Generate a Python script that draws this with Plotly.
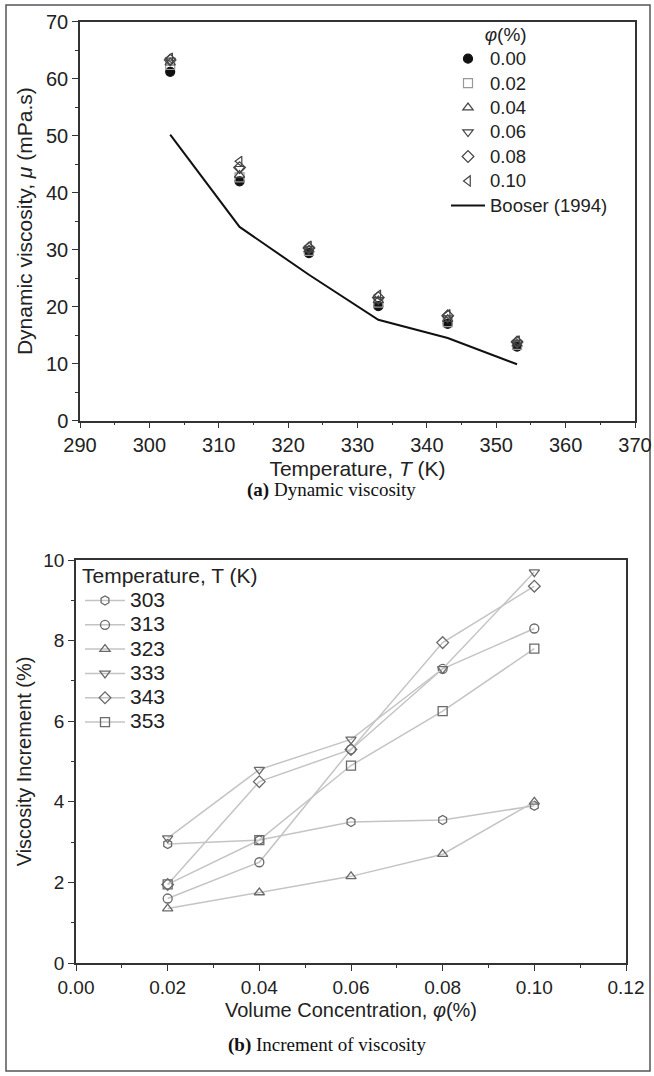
import plotly.graph_objects as go

# ---- Data: (a) dynamic viscosity ----
temps = [303, 313, 323, 333, 343, 353]
phi_labels = ["0.00", "0.02", "0.04", "0.06", "0.08", "0.10"]
mu_000 = [61.2, 42.0, 29.4, 20.1, 17.0, 13.0]
mu_002 = [62.4, 42.7, 29.8, 20.7, 17.3, 13.3]
mu_004 = [62.8, 43.1, 30.0, 21.1, 17.8, 13.5]
mu_006 = [63.2, 44.2, 30.1, 21.2, 18.0, 13.6]
mu_008 = [63.3, 44.4, 30.3, 21.6, 18.4, 13.8]
mu_010 = [63.6, 45.5, 30.6, 22.0, 18.6, 14.0]
booser_T = [303, 313, 323, 333, 343, 353]
booser_mu = [50.2, 34.0, 25.6, 17.7, 14.5, 9.9]

# ---- Data: (b) increment of viscosity ----
phis = [0.02, 0.04, 0.06, 0.08, 0.10]
temp_labels = ["303", "313", "323", "333", "343", "353"]
inc_303 = [2.95, 3.05, 3.5, 3.55, 3.9]
inc_313 = [1.6, 2.5, 5.3, 7.3, 8.3]
inc_323 = [1.35, 1.75, 2.15, 2.7, 4.0]
inc_333 = [3.1, 4.8, 5.55, 7.3, 9.7]
inc_343 = [1.95, 4.5, 5.3, 7.95, 9.35]
inc_353 = [1.95, 3.05, 4.9, 6.25, 7.8]

W, H = 654, 1076
SANS = "Liberation Sans, Arial"
fig = go.Figure()

def big(txt, px):
    return f"<span style='font-size:{px}px'>{txt}</span>"

top_series = [mu_000, mu_002, mu_004, mu_006, mu_008, mu_010]
top_symbols = ["circle", "square-open", "triangle-up-open", "triangle-down-open",
               "diamond-open", "triangle-left-open"]
for lab, vals, sym in zip(phi_labels, top_series, top_symbols):
    col = "#111" if sym == "circle" else ("#999" if lab == "0.02" else "#444")
    fig.add_trace(go.Scatter(
        x=temps, y=vals, mode="markers", name=big(lab, 18.5), legend="legend",
        marker=dict(symbol=sym, size=9, color=col, line=dict(width=1.2, color=col)),
        xaxis="x", yaxis="y"))
fig.add_trace(go.Scatter(
    x=booser_T, y=booser_mu, mode="lines", name=big("Booser (1994)", 18.5), legend="legend",
    line=dict(color="#111", width=2), xaxis="x", yaxis="y"))

bot_series = [inc_303, inc_313, inc_323, inc_333, inc_343, inc_353]
bot_symbols = ["hexagon-open", "circle-open", "triangle-up-open", "triangle-down-open",
               "diamond-open", "square-open"]
for lab, vals, sym in zip(temp_labels, bot_series, bot_symbols):
    fig.add_trace(go.Scatter(
        x=phis, y=vals, mode="lines+markers", name=big(lab, 21), legend="legend2",
        marker=dict(symbol=sym, size=9, color="#6a6a6a", line=dict(width=1.3, color="#6a6a6a")),
        line=dict(color="#c4c4c4", width=1.5),
        xaxis="x2", yaxis="y2"))

def ax(tsize, ttsize, **kw):
    d = dict(showline=True, linecolor="#333", linewidth=1.5, mirror=True,
             ticks="outside", ticklen=6, tickwidth=1.2, tickcolor="#333",
             showgrid=False, zeroline=False, automargin=False,
             tickfont=dict(family=SANS, size=tsize, color="#222"),
             minor=dict(ticks="outside", ticklen=3, tickwidth=1, tickcolor="#333"))
    d.update(kw)
    d["title"]["font"] = dict(family=SANS, size=ttsize, color="#222")
    return d

fig.update_layout(
    width=W, height=H, margin=dict(l=0, r=0, t=0, b=0, autoexpand=False),
    paper_bgcolor="white", plot_bgcolor="white",
    xaxis=ax(20, 21, domain=[80/W, 635/W], range=[290, 370], dtick=10, anchor="y",
             minor_dtick=5,
             title=dict(text="Temperature, <i>T</i> (K)", standoff=6)),
    yaxis=ax(20, 21, domain=[1-420.7/H, 1-21.7/H], range=[0, 70], dtick=10, anchor="x",
             minor_dtick=5,
             title=dict(text="Dynamic viscosity, <i>μ</i> (mPa.s)", standoff=8)),
    xaxis2=ax(19, 20, domain=[76/W, 626/W], range=[0, 0.12], dtick=0.02, tickformat=".2f",
              anchor="y2", minor_dtick=0.01,
              title=dict(text="Volume Concentration, <i>φ</i>(%)", standoff=6)),
    yaxis2=ax(19, 20, domain=[1-963/H, 1-560/H], range=[0, 10], dtick=2, anchor="x2",
              minor_dtick=1,
              title=dict(text="Viscosity Increment (%)", standoff=6)),
    legend=dict(x=446/W, y=1-20/H, xanchor="left", yanchor="top",
                bgcolor="rgba(0,0,0,0)", font=dict(family=SANS, size=16.5, color="#222"),
                title=dict(text="        " + big("<i>φ</i>(%)", 19), font=dict(family=SANS, size=16.5, color="#222")),
                tracegroupgap=0, itemwidth=34),
    legend2=dict(x=80/W, y=1-562/H, xanchor="left", yanchor="top",
                 bgcolor="rgba(0,0,0,0)", font=dict(family=SANS, size=16.4, color="#222"),
                 title=dict(text=big("Temperature, T (K)", 21), font=dict(family=SANS, size=16.4, color="#222"),
                            side="top"),
                 tracegroupgap=0, itemwidth=40),
    showlegend=True,
)

fig.add_annotation(text="<b>(a)</b> Dynamic viscosity", x=331/W, y=1-490/H, xref="paper", yref="paper",
                   showarrow=False, font=dict(family="Liberation Serif, Times New Roman", size=19, color="#111"))
fig.add_annotation(text="<b>(b)</b> Increment of viscosity", x=327/W, y=1-1058/H, xref="paper", yref="paper",
                   showarrow=False, font=dict(family="Liberation Serif, Times New Roman", size=19, color="#111"))

fig.add_shape(type="rect", xref="paper", yref="paper", x0=6/W, x1=650/W, y0=1-1071/H, y1=1-5/H,
              line=dict(color="#555", width=1.5), fillcolor="rgba(0,0,0,0)", layer="below")

fig.write_html("out.html")
